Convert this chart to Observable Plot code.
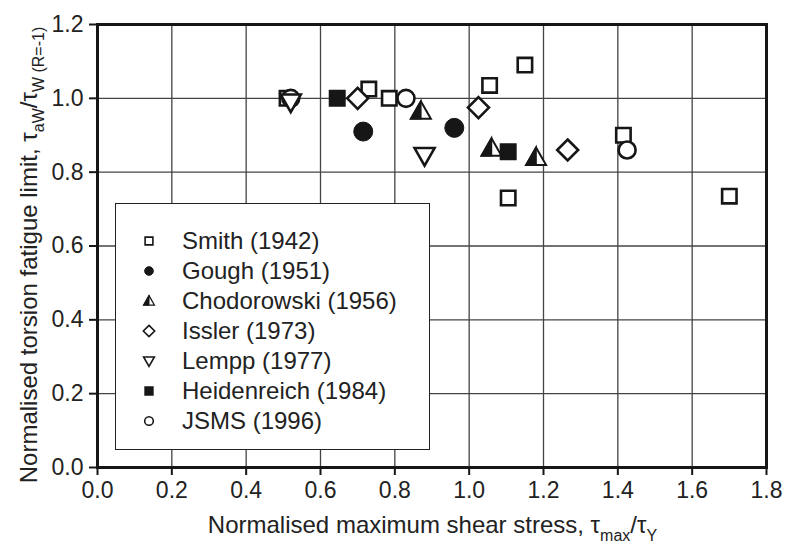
<!DOCTYPE html>
<html><head><meta charset="utf-8">
<script src="https://cdn.jsdelivr.net/npm/d3@7"></script>
<script src="https://cdn.jsdelivr.net/npm/@observablehq/plot@0.6"></script>
<style>
body{margin:0;background:#fff;font-family:"Liberation Sans",Arial,sans-serif;}
#wrap{position:relative;width:786px;height:550px;}
#legend{position:absolute;left:115px;top:203px;width:315px;height:247px;border:1.5px solid #222;background:#fff;box-sizing:border-box;}
.sym{position:absolute;left:22px;width:22px;height:22px;}
.lab{position:absolute;left:66px;height:30px;line-height:30px;font-size:24px;white-space:nowrap;color:#222;}
</style></head><body><div id="wrap"></div>
<script>
// ---- data ----
const xTicks = [0, 0.2, 0.4, 0.6, 0.8, 1.0, 1.2, 1.4, 1.6, 1.8];
const yTicks = [0, 0.2, 0.4, 0.6, 0.8, 1.0, 1.2];
const seriesNames = ["Smith (1942)", "Gough (1951)", "Chodorowski (1956)", "Issler (1973)", "Lempp (1977)", "Heidenreich (1984)", "JSMS (1996)"];
const smithX = [0.51, 0.73, 0.785, 1.055, 1.15, 1.105, 1.415, 1.70];
const smithY = [1.0, 1.025, 1.0, 1.035, 1.09, 0.73, 0.90, 0.735];
const goughX = [0.715, 0.96];
const goughY = [0.91, 0.92];
const chodX = [0.87, 1.06, 1.18];
const chodY = [0.965, 0.865, 0.84];
const isslerX = [0.70, 1.025, 1.265];
const isslerY = [1.0, 0.975, 0.86];
const lemppX = [0.52, 0.88];
const lemppY = [0.99, 0.845];
const heidX = [0.645, 1.105];
const heidY = [1.0, 0.855];
const jsmsX = [0.52, 0.83, 1.425];
const jsmsY = [1.0, 1.0, 0.86];

// ---- symbols ----
function poly(pts){return {draw(ctx,size){const k=Math.sqrt(size/Math.PI)/8;ctx.moveTo(pts[0][0]*k,pts[0][1]*k);for(let i=1;i<pts.length;i++)ctx.lineTo(pts[i][0]*k,pts[i][1]*k);ctx.closePath();}};}
const symSquare = poly([[-7.2,-7.2],[7.2,-7.2],[7.2,7.2],[-7.2,7.2]]);
const symCircle = {draw(ctx,size){const r=Math.sqrt(size/Math.PI);ctx.moveTo(r,0);ctx.arc(0,0,r,0,2*Math.PI);ctx.closePath();}};
const symDiamond = poly([[0,-10.5],[10.5,0],[0,10.5],[-10.5,0]]);
const symTriUp = poly([[0,-10],[10,7.5],[-10,7.5]]);
const symHalf = poly([[0,-10],[0,7.5],[-10,7.5]]);
const symTriDown = poly([[0,10],[10,-7.5],[-10,-7.5]]);

const pts = (xs, ys) => xs.map((x, i) => ({x, y: ys[i]}));
const ink = "#161616";
const W = 786, H = 550, mL = 97, mR = 20, mT = 24, mB = 83;
const FONT = '"Liberation Sans", Arial, sans-serif';

const chart = Plot.plot({
  width: W, height: H,
  marginLeft: mL, marginRight: mR, marginTop: mT, marginBottom: mB,
  style: {fontFamily: FONT, color: "#222", background: "#fff"},
  x: {domain: [0, 1.8], axis: null},
  y: {domain: [0, 1.2], axis: null},
  marks: [
    Plot.gridX(xTicks, {stroke: "#444", strokeOpacity: 1, strokeWidth: 1.3}),
    Plot.gridY(yTicks, {stroke: "#444", strokeOpacity: 1, strokeWidth: 1.3}),
    Plot.axisX(xTicks, {tickSize: 8, tickPadding: 6, strokeWidth: 2, stroke: ink, fontSize: 23, fill: "#222", tickFormat: d => d.toFixed(1), label: null}),
    Plot.axisY(yTicks, {tickSize: 8, tickPadding: 6, strokeWidth: 2, stroke: ink, fontSize: 23, fill: "#222", tickFormat: d => d.toFixed(1), label: null}),
    Plot.frame({stroke: ink, strokeWidth: 3}),
    Plot.dot(pts(smithX, smithY), {x: "x", y: "y", symbol: symSquare, r: 8, fill: "white", stroke: ink, strokeWidth: 2.6}),
    Plot.dot(pts(goughX, goughY), {x: "x", y: "y", symbol: symCircle, r: 9.5, fill: ink, stroke: ink, strokeWidth: 1}),
    Plot.dot(pts(isslerX, isslerY), {x: "x", y: "y", symbol: symDiamond, r: 8, fill: "white", stroke: ink, strokeWidth: 2.6}),
    Plot.dot(pts(chodX, chodY), {x: "x", y: "y", symbol: symTriUp, r: 8, fill: "white", stroke: ink, strokeWidth: 2}),
    Plot.dot(pts(chodX, chodY), {x: "x", y: "y", symbol: symHalf, r: 8, fill: ink, stroke: ink, strokeWidth: 1.5}),
    Plot.dot(pts(heidX, heidY), {x: "x", y: "y", symbol: symSquare, r: 8, fill: ink, stroke: ink, strokeWidth: 2.6}),
    Plot.dot(pts(jsmsX, jsmsY), {x: "x", y: "y", symbol: symCircle, r: 8.5, fill: "white", stroke: ink, strokeWidth: 2.6}),
    Plot.dot(pts(lemppX, lemppY), {x: "x", y: "y", symbol: symTriDown, r: 8, fill: "white", stroke: ink, strokeWidth: 2.6})
  ]
});
const wrap = document.getElementById("wrap");
wrap.appendChild(chart);

// axis labels with subscripts
const svg = d3.select(chart);
const cx = mL + (W - mL - mR) / 2 + 1;
const xl = svg.append("text").attr("x", cx).attr("y", 533).attr("text-anchor", "middle")
  .attr("fill", "#222").style("font-size", "24px").style("font-family", FONT);
xl.append("tspan").text("Normalised maximum shear stress, τ");
xl.append("tspan").attr("dy", 8).style("font-size", "16px").text("max");
xl.append("tspan").attr("dy", -8).text("/τ");
xl.append("tspan").attr("dy", 8).style("font-size", "16px").text("Y");
const yl = svg.append("text").attr("transform", "rotate(-90)").attr("x", -255).attr("y", 37).attr("text-anchor", "middle")
  .attr("fill", "#222").style("font-size", "24px").style("font-family", FONT);
yl.append("tspan").text("Normalised torsion fatigue limit, τ");
yl.append("tspan").attr("dy", 7).style("font-size", "16px").text("aW");
yl.append("tspan").attr("dy", -7).text("/τ");
yl.append("tspan").attr("dy", 7).style("font-size", "16px").text("W (R=-1)");

// legend
const legSyms = [
  {s: symSquare, fill: "white", sw: 1.6},
  {s: symCircle, fill: ink, sw: 1},
  {s: "half"},
  {s: symDiamond, fill: "white", sw: 1.6},
  {s: symTriDown, fill: "white", sw: 1.6},
  {s: symSquare, fill: ink, sw: 1.6},
  {s: symCircle, fill: "white", sw: 1.6}
];
const leg = document.createElement("div");
leg.id = "legend";
wrap.appendChild(leg);
function pathOf(sym, scale){const p = d3.path(); sym.draw(p, Math.PI * 64 * scale * scale); return p.toString();}
seriesNames.forEach((name, i) => {
  const rowC = 37 + 30 * i; // row centre inside box
  const s = d3.create("svg").attr("class", "sym").attr("viewBox", "-11 -11 22 22").style("top", (rowC - 11) + "px");
  const sc = 0.54;
  if (legSyms[i].s === "half") {
    s.append("path").attr("d", pathOf(symTriUp, sc)).attr("fill", "white").attr("stroke", ink).attr("stroke-width", 1.3);
    s.append("path").attr("d", pathOf(symHalf, sc)).attr("fill", ink).attr("stroke", ink).attr("stroke-width", 1);
  } else {
    s.append("path").attr("d", pathOf(legSyms[i].s, sc)).attr("fill", legSyms[i].fill).attr("stroke", ink).attr("stroke-width", legSyms[i].sw);
  }
  leg.appendChild(s.node());
  const t = document.createElement("div");
  t.className = "lab";
  t.style.top = (rowC - 15) + "px";
  t.textContent = name;
  leg.appendChild(t);
});
</script></body></html>
